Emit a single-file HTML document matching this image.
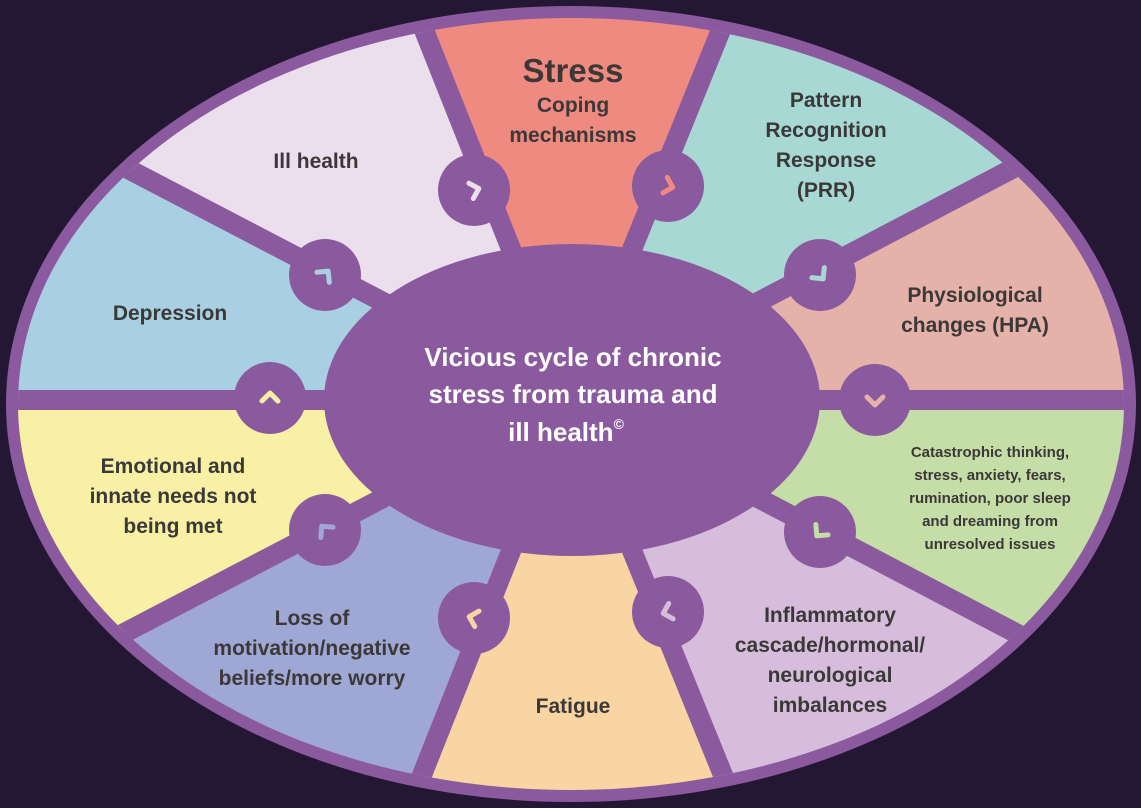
<!DOCTYPE html>
<html><head><meta charset="utf-8"><style>
html,body{margin:0;padding:0;background:#231733;overflow:hidden;width:1141px;height:808px}
svg{display:block}
text{font-family:"Liberation Sans",sans-serif;font-weight:bold;fill:#3b3838;text-anchor:middle}
</style></head><body>
<svg id="s" width="1141" height="808" viewBox="0 0 1141 808" xmlns="http://www.w3.org/2000/svg">
<rect width="1141" height="808" fill="#231733"/>
<defs><clipPath id="c"><ellipse cx="571" cy="404" rx="553" ry="386"/></clipPath></defs>
<ellipse cx="571" cy="404" rx="565" ry="398" fill="#8b5a9e"/>
<g clip-path="url(#c)" stroke="none">
<polygon points="571,400 118,-740 1033,-740" fill="#ef8a80"/>
<polygon points="571,400 1033,-740 1888,-290" fill="#a8d8d3"/>
<polygon points="571,400 1888,-290 1900,400" fill="#e4b2a8"/>
<polygon points="571,400 1900,400 1888,1090" fill="#c5dda7"/>
<polygon points="571,400 1888,1090 1033,1540" fill="#d6bddb"/>
<polygon points="571,400 1033,1540 118,1540" fill="#f8d5a2"/>
<polygon points="571,400 118,1540 -752,1090" fill="#9fa8d4"/>
<polygon points="571,400 -752,1090 -1000,400" fill="#f8f1a5"/>
<polygon points="571,400 -1000,400 -752,-290" fill="#a9d0e2"/>
<polygon points="571,400 -752,-290 118,-740" fill="#ebdfee"/>
<g stroke="#8b5a9e" stroke-width="20">
<line x1="571" y1="400" x2="118" y2="-740"/><line x1="571" y1="400" x2="1033" y2="-740"/>
<line x1="571" y1="400" x2="1888" y2="-290"/><line x1="571" y1="400" x2="1900" y2="400"/>
<line x1="571" y1="400" x2="1888" y2="1090"/><line x1="571" y1="400" x2="1033" y2="1540"/>
<line x1="571" y1="400" x2="118" y2="1540"/><line x1="571" y1="400" x2="-752" y2="1090"/>
<line x1="571" y1="400" x2="-1000" y2="400"/><line x1="571" y1="400" x2="-752" y2="-290"/>
</g></g>
<ellipse cx="572" cy="400" rx="248" ry="156" fill="#8b5a9e"/>
<g id="ch"></g>
<text x="573" y="82" style="font-size:33px">Stress</text>
<text x="573" y="112" style="font-size:21px">Coping</text>
<text x="573" y="142" style="font-size:21px">mechanisms</text>
<text x="826" y="107" style="font-size:21px">Pattern</text>
<text x="826" y="137" style="font-size:21px">Recognition</text>
<text x="826" y="167" style="font-size:21px">Response</text>
<text x="826" y="197" style="font-size:21px">(PRR)</text>
<text x="975" y="302" style="font-size:21px">Physiological</text>
<text x="975" y="332" style="font-size:21px">changes (HPA)</text>
<text x="990" y="457" style="font-size:15px">Catastrophic thinking,</text>
<text x="990" y="480" style="font-size:15px">stress, anxiety, fears,</text>
<text x="990" y="503" style="font-size:15px">rumination, poor sleep</text>
<text x="990" y="526" style="font-size:15px">and dreaming from</text>
<text x="990" y="549" style="font-size:15px">unresolved issues</text>
<text x="830" y="622" style="font-size:21px">Inflammatory</text>
<text x="830" y="652" style="font-size:21px">cascade/hormonal/</text>
<text x="830" y="682" style="font-size:21px">neurological</text>
<text x="830" y="712" style="font-size:21px">imbalances</text>
<text x="573" y="713" style="font-size:21px">Fatigue</text>
<text x="312" y="625" style="font-size:21px">Loss of</text>
<text x="312" y="655" style="font-size:21px">motivation/negative</text>
<text x="312" y="685" style="font-size:21px">beliefs/more worry</text>
<text x="173" y="473" style="font-size:21px">Emotional and</text>
<text x="173" y="503" style="font-size:21px">innate needs not</text>
<text x="173" y="533" style="font-size:21px">being met</text>
<text x="170" y="320" style="font-size:21px">Depression</text>
<text x="316" y="168" style="font-size:21px">Ill health</text>
<text x="573" y="366" style="font-size:26px;fill:#fff">Vicious cycle of chronic</text>
<text x="573" y="403" style="font-size:26px;fill:#fff">stress from trauma and</text>
<text x="566" y="441" style="font-size:26px;fill:#fff">ill health<tspan style="font-size:14px" dy="-12">©</tspan></text>
</svg>
<script>
var pts=[[474,190,"#ebdfee"],[668,186,"#ef8a80"],[820,275,"#a8d8d3"],[875,400,"#e4b2a8"],[820,532,"#c5dda7"],[668,612,"#d6bddb"],[474,618,"#f8d5a2"],[325,530,"#9fa8d4"],[270,398,"#f8f1a5"],[325,275,"#a9d0e2"]];
var g=document.getElementById("ch"),h="";
pts.forEach(function(p){var dx=p[0]-571,dy=(p[1]-400)*1.6,l=Math.hypot(dx,dy);dx/=l;dy/=l;var tx=-dy,ty=dx;
h+='<circle cx="'+p[0]+'" cy="'+p[1]+'" r="36" fill="#8b5a9e"/>';
var a=[p[0]-3*tx+8*dx,p[1]-3*ty+8*dy],b=[p[0]+5*tx,p[1]+5*ty],c=[p[0]-3*tx-8*dx,p[1]-3*ty-8*dy];
h+='<polyline points="'+a+' '+b+' '+c+'" fill="none" stroke="'+p[2]+'" stroke-width="5" stroke-linecap="round" stroke-linejoin="round"/>';});
g.innerHTML=h;
</script>
</body></html>
